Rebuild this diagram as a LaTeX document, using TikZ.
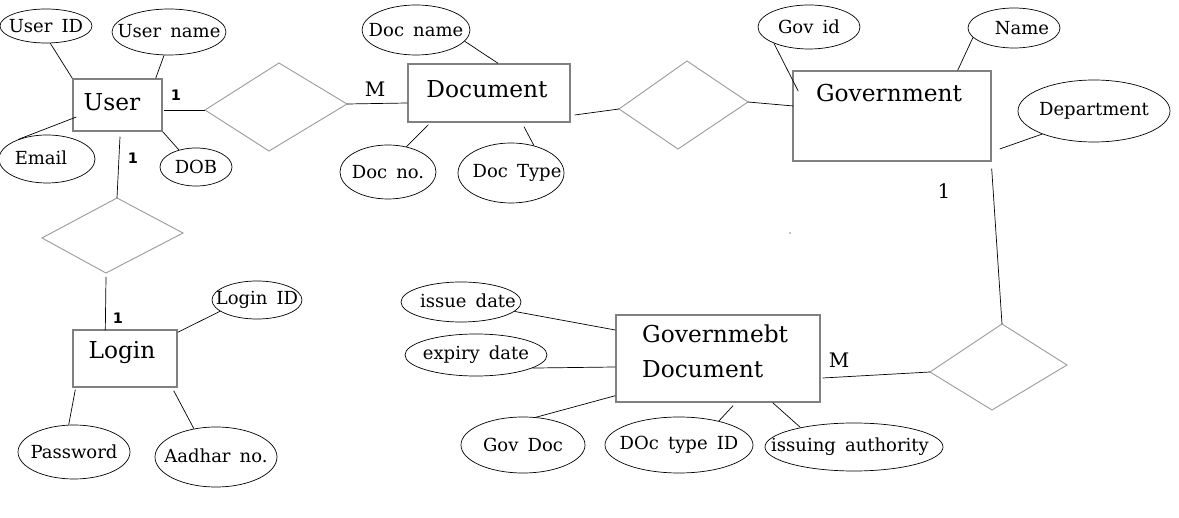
\documentclass[tikz,border=0pt]{standalone}
\usepackage{fontspec}
\setmainfont{DejaVu Serif}[WordSpace=1.6]
\newfontfamily\cardsans{DejaVu Sans}
\usetikzlibrary{shapes.geometric,calc}
\definecolor{boxgray}{RGB}{128,128,128}
\definecolor{relgray}{RGB}{155,155,155}
\newcommand\attxt[1]{\makebox[0pt]{\raisebox{-1.5pt}{#1}}}
\tikzset{
  ent/.style={draw=boxgray, line width=1.4pt, inner sep=0pt, fill=none},
  enttext/.style={font=\fontsize{23.3}{35}\selectfont, inner sep=0pt},
  attr/.style={draw=black, line width=0.7pt, ellipse, inner sep=0pt, font=\fontsize{18}{20}\selectfont},
  rel/.style={draw=relgray, line width=0.9pt},
  conn/.style={draw=black, line width=0.7pt},
  cardS/.style={font=\cardsans\bfseries\fontsize{14.5}{16}\selectfont, inner sep=0pt},
  cardR/.style={font=\fontsize{20}{22}\selectfont, inner sep=0pt}
}
\begin{document}
\begin{tikzpicture}[x=1pt,y=-1pt]
\useasboundingbox (0,0) rectangle (1179,518);
\fill[white] (0,0) rectangle (1179,518);

% entities
\node[ent, minimum width=89, minimum height=52] (user) at (117.5,105) {};
\node[enttext] (userT) at (112,102) {User};
\node[ent, minimum width=162, minimum height=58] (doc) at (489,93) {};
\node[enttext] (docT) at (487,89) {Document};
\node[ent, minimum width=198, minimum height=90] (gov) at (892,116) {};
\node[enttext] (govT) at (889,93) {Government};
\node[ent, minimum width=204, minimum height=87] (gdoc) at (718,358.5) {};
\node[enttext, anchor=west, align=left] (gdocT) at (642,351) {Governmebt\\Document};
\node[ent, minimum width=104, minimum height=57] (login) at (125,358.5) {};
\node[enttext] (loginT) at (122,353) {Login};

% attributes
\node[attr, minimum width=92, minimum height=34] (uid) at (46,26) {\attxt{User ID}};
\node[attr, minimum width=114, minimum height=46] (uname) at (169,32) {\attxt{\raisebox{2pt}{User name}}};
\node[attr, minimum width=96, minimum height=48] (email) at (47,159) {\attxt{\raisebox{3pt}{\hspace{-12pt}Email}}};
\node[attr, minimum width=72, minimum height=38] (dob) at (196,167) {\attxt{DOB}};
\node[attr, minimum width=108, minimum height=50] (docname) at (416,30) {\attxt{Doc name}};
\node[attr, minimum width=96, minimum height=54] (docno) at (388,172) {\attxt{Doc no.}};
\node[attr, minimum width=106, minimum height=60] (doctype) at (511,173) {\attxt{\hspace{12pt}Doc Type}};
\node[attr, minimum width=102, minimum height=44] (govid) at (809,27) {\attxt{Gov id}};
\node[attr, minimum width=92, minimum height=40] (gname) at (1014,28) {\attxt{\hspace{16pt}Name}};
\node[attr, minimum width=152, minimum height=62] (dept) at (1094,111) {\attxt{Department}};
\node[attr, minimum width=90, minimum height=38] (loginid) at (257,300) {\attxt{Login ID}};
\node[attr, minimum width=112, minimum height=54] (pass) at (74,452) {\attxt{Password}};
\node[attr, minimum width=122, minimum height=60] (aadhar) at (216,457) {\attxt{\raisebox{3pt}{Aadhar no.}}};
\node[attr, minimum width=120, minimum height=40] (issue) at (461,302) {\attxt{\hspace{14pt}\raisebox{3pt}{issue date}}};
\node[attr, minimum width=142, minimum height=42] (expiry) at (476,355) {\attxt{expiry date}};
\node[attr, minimum width=124, minimum height=56] (gdocattr) at (523,445) {\attxt{Gov Doc}};
\node[attr, minimum width=148, minimum height=56] (dtid) at (679,445) {\attxt{DOc type ID}};
\node[attr, minimum width=178, minimum height=48] (issuing) at (854,447) {\attxt{\hspace{-8pt}issuing authority}};

% relationships
\coordinate (r1l) at (205,110); \coordinate (r1t) at (279,63);
\coordinate (r1r) at (347,104); \coordinate (r1b) at (269,151);
\coordinate (r2l) at (619,109); \coordinate (r2t) at (687,61);
\coordinate (r2r) at (748,102); \coordinate (r2b) at (678,149);
\coordinate (r3l) at (930,372); \coordinate (r3t) at (1002,324);
\coordinate (r3r) at (1067,365); \coordinate (r3b) at (992,410);
\coordinate (r4l) at (42,238); \coordinate (r4t) at (117,198);
\coordinate (r4r) at (183,233); \coordinate (r4b) at (106,273);
\draw[rel] (r1l) -- (r1t) -- (r1r) -- (r1b) -- cycle;
\draw[rel] (r2l) -- (r2t) -- (r2r) -- (r2b) -- cycle;
\draw[rel] (r3l) -- (r3t) -- (r3r) -- (r3b) -- cycle;
\draw[rel] (r4l) -- (r4t) -- (r4r) -- (r4b) -- cycle;

% attribute connectors
\draw[conn] (uid.-76) -- (user.north west);
\draw[conn] (uname.-102) -- ($(user.north east)+(-7,0)$);
\draw[conn] (email.146) -- ($(user.west)+(4,12)$);
\draw[conn] (dob.135) -- (user.south east);
\draw[conn] (docname.-13) -- ($(doc.north)+(9,0)$);
\draw[conn] (docno.54) -- ($(doc.south west)+(21,2)$);
\draw[conn] (doctype.50) -- ($(doc.south)+(35,4)$);
\draw[conn] (govid.-155) -- ($(gov.north west)+(6,21)$);
\draw[conn] (gname.-167) -- ($(gov.north east)+(-34,0)$);
\draw[conn] (dept.-156) -- ($(gov.east)+(8,33)$);
\draw[conn] (issue.-10) -- ($(gdoc.west)+(0,-28.5)$);
\draw[conn] (expiry.-13) -- ($(gdoc.west)+(0,8.5)$);
\draw[conn] (gdocattr.65) -- ($(gdoc.south west)+(0,-7)$);
\draw[conn] (dtid.31) -- ($(gdoc.south)+(15,3)$);
\draw[conn] (issuing.160) -- ($(gdoc.south east)+(-48,0)$);
\draw[conn] ($(login.north east)+(0,3)$) -- (loginid.-163);
\draw[conn] ($(login.south west)+(3,2)$) -- (pass.101);
\draw[conn] ($(login.south east)+(-4,3)$) -- (aadhar.128);

% relationship connectors
\draw[conn] ($(user.east)+(1,5)$) -- (r1l);
\draw[conn] (r1r) -- ($(doc.west)+(0,10)$);
\draw[conn] ($(doc.east)+(4,22)$) -- (r2l);
\draw[conn] (r2r) -- ($(gov.west)+(1,-10)$);
\draw[conn] ($(gov.south east)+(0,7)$) -- (r3t);
\draw[conn] ($(gdoc.east)+(2,19.5)$) -- (r3l);
\draw[conn] ($(user.south)+(2.5,5)$) -- (r4t);
\draw[conn] ($(r4b)+(0,4)$) -- ($(login.north west)+(33,1)$);

% cardinalities
\node[cardS] (c1) at (176,95) {1};
\node[cardR] (c2) at (375,89) {M};
\node[cardR] (c3) at (944,191) {1};
\node[cardR] (c4) at (839,360) {M};
\node[cardS] (c5) at (133,158) {1};
\node[cardS] (c6) at (118,318) {1};

% stray dot
\fill[black] (790,233) circle (0.6);
\end{tikzpicture}
\end{document}
